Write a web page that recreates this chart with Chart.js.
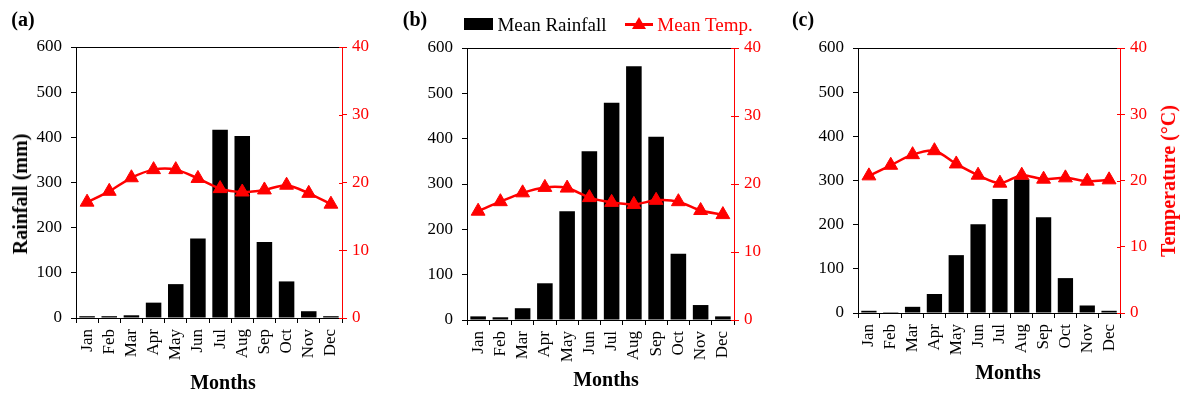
<!DOCTYPE html>
<html>
<head>
<meta charset="utf-8">
<script src="https://cdn.jsdelivr.net/npm/chart.js@4/dist/chart.umd.min.js"></script>
<style>
  body { margin: 0; background: #fff; }
  #wrap { position: relative; width: 1182px; height: 394px; font-family: 'Liberation Serif', 'Times New Roman', serif; }
  canvas { position: absolute; top: 0; }
  .txt { position: absolute; white-space: nowrap; transform: translate(-50%, -50%); line-height: 1; }
  .b { font-weight: bold; }
  .red { color: #ff0000; }
  .rot { transform: translate(-50%, -50%) rotate(-90deg); }
  .key { position: absolute; }
</style>
</head>
<body>
<div id="wrap">
  <canvas id="chartA" width="395" height="394" style="left:0"></canvas>
  <canvas id="chartB" width="390" height="394" style="left:395px"></canvas>
  <canvas id="chartC" width="397" height="394" style="left:785px"></canvas>

  <div class="txt b" style="left:23px;top:19px;font-size:20px">(a)</div>
  <div class="txt b" style="left:415px;top:19px;font-size:20px">(b)</div>
  <div class="txt b" style="left:803px;top:19px;font-size:20px">(c)</div>

  <div class="txt b rot" style="left:20px;top:194px;font-size:20px">Rainfall (mm)</div>
  <div class="txt b rot red" style="left:1168px;top:181px;font-size:20px">Temperature (°C)</div>

  <div class="txt b" style="left:223px;top:382px;font-size:20px">Months</div>
  <div class="txt b" style="left:606px;top:379px;font-size:20px">Months</div>
  <div class="txt b" style="left:1008px;top:372px;font-size:20px">Months</div>

  <!-- legend -->
  <div class="key" style="left:464px;top:18px;width:29px;height:12px;background:#000"></div>
  <div class="txt" style="left:552px;top:24px;font-size:19px">Mean Rainfall</div>
  <div class="key" style="left:625px;top:23px;width:28px;height:3px;background:#ff0000"></div>
  <div class="key" style="left:632px;top:17px;width:0;height:0;border-left:7px solid transparent;border-right:7px solid transparent;border-bottom:12px solid #ff0000"></div>
  <div class="txt red" style="left:705px;top:24px;font-size:19px">Mean Temp.</div>
</div>

<script>
const months = ['Jan', 'Feb', 'Mar', 'Apr', 'May', 'Jun', 'Jul', 'Aug', 'Sep', 'Oct', 'Nov', 'Dec'];

// (a)
const rainA = [4, 4, 6, 34, 75, 176, 417, 403, 168, 81, 15, 4];
const tempA = [17.1, 18.7, 20.7, 21.9, 21.9, 20.6, 19.1, 18.6, 18.9, 19.6, 18.4, 16.8];
// (b)
const rainB = [8, 6, 26, 81, 240, 372, 479, 560, 404, 146, 33, 8];
const tempB = [16.0, 17.4, 18.7, 19.5, 19.4, 18.0, 17.3, 17.0, 17.6, 17.4, 16.1, 15.5];
// (c)
const rainC = [5, 2, 14, 43, 131, 201, 258, 303, 217, 79, 17, 5];
const tempC = [20.7, 22.3, 23.9, 24.5, 22.5, 20.8, 19.6, 20.8, 20.2, 20.4, 19.9, 20.1];

const rainTicks = { min: 0, max: 600, step: 100 };
const tempTicks = { min: 0, max: 40, step: 10 };

const RED = '#ff0000';
const tickFont = { family: "'Liberation Serif', 'Times New Roman', serif", size: 17 };

Chart.defaults.font.family = tickFont.family;
Chart.defaults.color = '#000';

// black top edge of the plot box + short inner ticks on the red axis
const frame = {
  id: 'frame',
  afterDraw(chart) {
    const { ctx, chartArea: a, scales } = chart;
    ctx.save();
    ctx.lineWidth = 1;
    ctx.strokeStyle = '#000';
    ctx.beginPath();
    ctx.moveTo(a.left, a.top + 0.5);
    ctx.lineTo(a.right, a.top + 0.5);
    ctx.stroke();
    ctx.strokeStyle = RED;
    ctx.beginPath();
    scales.y1.ticks.forEach((t, i) => {
      const y = Math.round(scales.y1.getPixelForTick(i)) + 0.5;
      ctx.moveTo(a.right - 3, y);
      ctx.lineTo(a.right, y);
    });
    ctx.stroke();
    ctx.restore();
  }
};

function climateChart(id, rain, temp, box) {
  return new Chart(document.getElementById(id), {
    data: {
      labels: months,
      datasets: [{
        type: 'line',
        label: 'Mean Temp.',
        data: temp,
        yAxisID: 'y1',
        order: 0,
        borderColor: RED,
        backgroundColor: RED,
        borderWidth: 2.5,
        tension: 0.3,
        pointStyle: 'triangle',
        pointRadius: 8,
        pointBorderWidth: 1
      }, {
        type: 'bar',
        label: 'Mean Rainfall',
        data: rain,
        yAxisID: 'y',
        order: 1,
        backgroundColor: '#000',
        categoryPercentage: 1,
        barPercentage: 0.7
      }]
    },
    options: {
      responsive: false,
      animation: false,
      layout: { padding: { top: box.top } },
      plugins: { legend: { display: false }, tooltip: { enabled: false } },
      scales: {
        x: {
          grid: { offset: true, drawOnChartArea: false, tickLength: 5, color: '#000' },
          border: { color: '#000' },
          ticks: { autoSkip: false, minRotation: 90, maxRotation: 90, padding: 6, color: '#000', font: tickFont },
          afterFit: s => { s.height = box.xH; }
        },
        y: {
          position: 'left',
          min: rainTicks.min,
          max: rainTicks.max,
          grid: { drawOnChartArea: false, tickLength: 5, color: '#000' },
          border: { color: '#000' },
          ticks: { stepSize: rainTicks.step, padding: 9, color: '#000', font: tickFont },
          afterFit: s => { s.width = box.yW; }
        },
        y1: {
          position: 'right',
          min: tempTicks.min,
          max: tempTicks.max,
          grid: { drawOnChartArea: false, tickLength: 5, color: RED },
          border: { color: RED },
          ticks: { stepSize: tempTicks.step, padding: 5, color: RED, font: tickFont },
          afterFit: s => { s.width = box.y1W; }
        }
      }
    },
    plugins: [frame]
  });
}

climateChart('chartA', rainA, tempA, { top: 47, xH: 76, yW: 76, y1W: 53 });
climateChart('chartB', rainB, tempB, { top: 48, xH: 74, yW: 72, y1W: 51 });
climateChart('chartC', rainC, tempC, { top: 48, xH: 81, yW: 73, y1W: 62 });
</script>
</body>
</html>
